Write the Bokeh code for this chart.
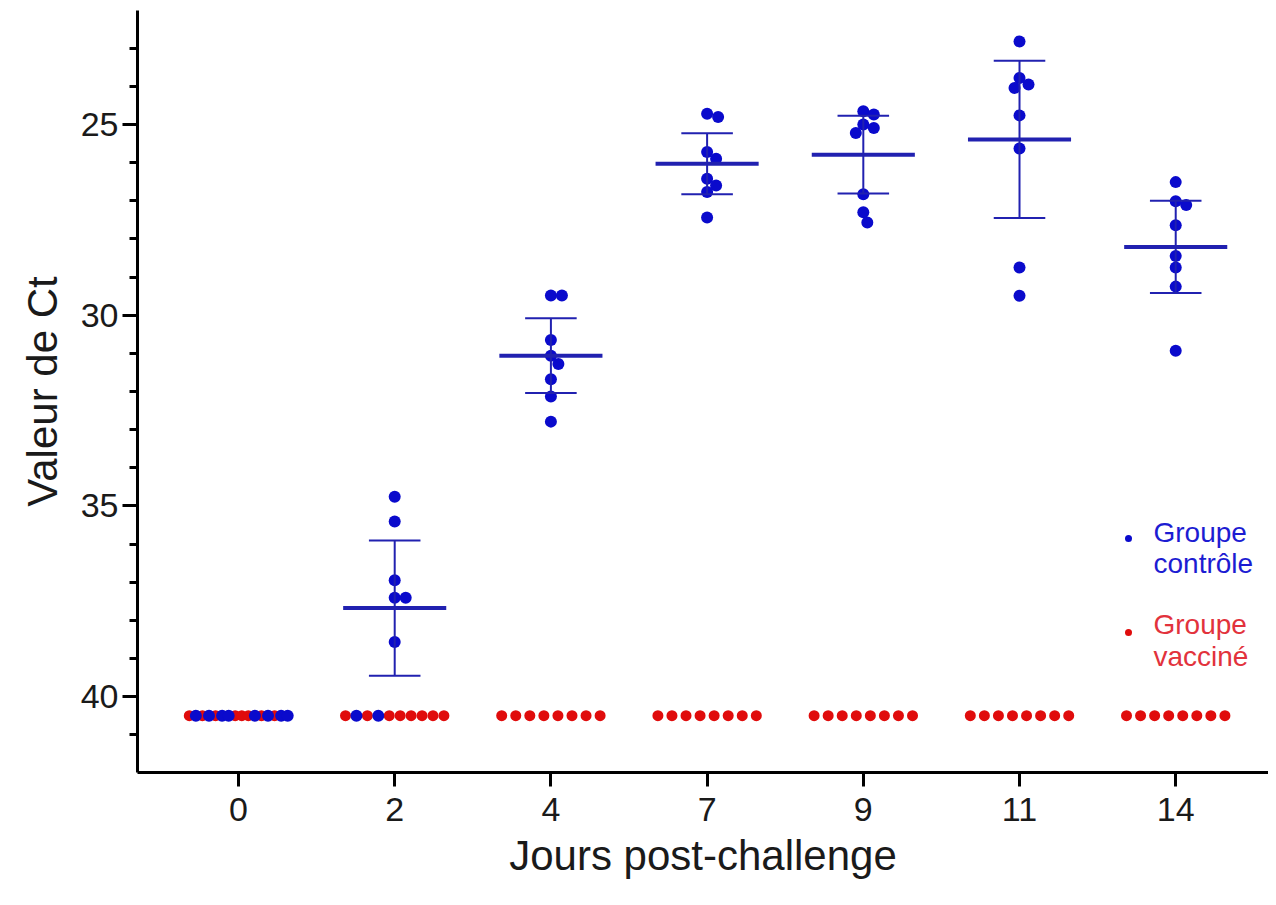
import numpy as np
from bokeh.plotting import figure
from bokeh.models import Range1d, FixedTicker, SingleIntervalTicker, Label
from bokeh.embed import file_html
from bokeh.resources import INLINE

# ---------------- data ----------------
jours = ["0", "2", "4", "7", "9", "11", "14"]
seuil = 40.5  # value given to undetected samples

controle = [
    [40.5, 40.5, 40.5, 40.5, 40.5, 40.5, 40.5, 40.5],
    [34.76, 35.41, 36.95, 37.41, 37.41, 38.57, 40.5, 40.5],
    [29.48, 29.48, 30.65, 31.06, 31.28, 31.68, 32.13, 32.79],
    [24.72, 24.80, 25.72, 25.90, 26.42, 26.60, 26.77, 27.44],
    [24.65, 24.74, 25.00, 25.09, 25.22, 26.83, 27.30, 27.57],
    [22.82, 23.78, 23.95, 24.04, 24.76, 25.63, 28.75, 29.49],
    [26.51, 27.01, 27.11, 27.64, 28.45, 28.75, 29.25, 30.93],
]
vaccine = [
    [40.5, 40.5, 40.5, 40.5, 40.5, 40.5, 40.5, 40.5],
    [40.5, 40.5, 40.5, 40.5, 40.5, 40.5, 40.5, 40.5],
    [40.5, 40.5, 40.5, 40.5, 40.5, 40.5, 40.5, 40.5],
    [40.5, 40.5, 40.5, 40.5, 40.5, 40.5, 40.5, 40.5],
    [40.5, 40.5, 40.5, 40.5, 40.5, 40.5, 40.5, 40.5],
    [40.5, 40.5, 40.5, 40.5, 40.5, 40.5, 40.5, 40.5],
    [40.5, 40.5, 40.5, 40.5, 40.5, 40.5, 40.5, 40.5],
]
moyenne = [None, 37.68, 31.06, 26.03, 25.79, 25.39, 28.21]
ecart = [None, 1.77, 0.98, 0.80, 1.02, 2.06, 1.21]
# order of groups (B = contrôle, R = vacciné) along the undetected row
ordre_seuil = ["RBRBRBBRRRBRBRBB", "RBRBRRRRRR", "RRRRRRRR", "RRRRRRRR",
               "RRRRRRRR", "RRRRRRRR", "RRRRRRRR"]

# ---------------- layout ----------------
W, H = 1268, 897
LEFT, TOP, RIGHT, BOTTOM = 137, 10, 0, 125
X0, X1 = -0.6466, 6.594
Y_BOT, Y_TOP = 41.99, 22.01
frame_w = W - LEFT - RIGHT
frame_h = H - TOP - BOTTOM
xs = frame_w / (X1 - X0)          # px per category unit
ys = frame_h / (Y_BOT - Y_TOP)    # px per Ct unit

BLUE = "#0a0acc"
LINE_BLUE = "#2121b0"
RED = "#e00c0c"
FONT = "Liberation Sans"
DOT = 12

def beeswarm(vals, diam=DOT):
    placed = []
    offs = [0.0] * len(vals)
    for i in sorted(range(len(vals)), key=lambda k: vals[k]):
        ypx = vals[i] * ys
        cands = [0.0]
        for d in np.arange(0.5, 60, 0.5):
            cands += [d, -d]
        for c in cands:
            if all((c - px) ** 2 + (ypx - py) ** 2 >= (diam - 1) ** 2 for px, py in placed):
                placed.append((c, ypx))
                offs[i] = c / xs
                break
    return offs

p = figure(width=W, height=H, x_range=Range1d(X0, X1), y_range=Range1d(Y_BOT, Y_TOP),
           output_backend="svg", toolbar_location=None,
           min_border_left=LEFT, min_border_top=TOP, min_border_right=RIGHT,
           min_border_bottom=BOTTOM)
p.outline_line_color = None
p.xgrid.visible = False
p.ygrid.visible = False
p.background_fill_color = "white"
p.border_fill_color = "white"

row_w = 0.63
bx, by, rx, ry = [], [], [], []
for i in range(len(jours)):
    det = [v for v in controle[i] if v != seuil]
    offs = beeswarm(det)
    bx += [i + o for o in offs]
    by += det
    seq = ordre_seuil[i]
    n = len(seq)
    for k, g in enumerate(seq):
        x = i - row_w / 2 + row_w * k / (n - 1)
        if g == "B":
            bx.append(x); by.append(seuil)
        else:
            rx.append(x); ry.append(seuil)

p.scatter(rx, ry, size=DOT - 1, marker="circle", fill_color=RED, line_color=RED, line_width=0)
p.scatter(bx, by, size=DOT, marker="circle", fill_color=BLUE, line_color=BLUE, line_width=0)

# mean and error bars
for i, (m, s) in enumerate(zip(moyenne, ecart)):
    if m is None:
        continue
    p.segment([i], [m - s], [i], [m + s], line_color=LINE_BLUE, line_width=2)
    p.segment([i - 0.165, i - 0.165], [m - s, m + s], [i + 0.165, i + 0.165], [m - s, m + s],
              line_color=LINE_BLUE, line_width=2)
    p.segment([i - 0.33], [m], [i + 0.33], [m], line_color=LINE_BLUE, line_width=4)

# axes
xa = p.xaxis[0]
xa.ticker = FixedTicker(ticks=list(range(len(jours))))
xa.major_label_overrides = {i: j for i, j in enumerate(jours)}
xa.axis_label = "Jours post-challenge"
ya = p.yaxis[0]
ya.ticker = SingleIntervalTicker(interval=5, num_minor_ticks=5)
ya.axis_label = "Valeur de Ct"
for ax in (xa, ya):
    ax.axis_line_width = 3
    ax.axis_line_color = "black"
    ax.major_tick_line_width = 3
    ax.minor_tick_line_width = 3
    ax.major_tick_line_color = "black"
    ax.minor_tick_line_color = "black"
    ax.major_tick_in = 0
    ax.minor_tick_in = 0
    ax.major_label_text_font = FONT
    ax.major_label_text_font_size = "34px"
    ax.major_label_text_color = "#1a1a1a"
    ax.axis_label_text_font = FONT
    ax.axis_label_text_font_size = "42px"
    ax.axis_label_text_font_style = "normal"
    ax.axis_label_text_color = "#1a1a1a"
xa.major_tick_out = 14
xa.minor_tick_out = 0
xa.major_label_standoff = 11
xa.axis_label_standoff = 8
ya.major_tick_out = 15
ya.minor_tick_out = 8
ya.major_label_standoff = 4
ya.axis_label_standoff = 12

# legend (drawn by hand)
def px2x(px):
    return X0 + (px - LEFT) / xs

def px2y(py):
    return Y_TOP + (py - TOP) / ys

leg = [("Groupe", "contrôle", BLUE, "#1c1cd2", 538, 532, 563),
       ("Groupe", "vacciné", RED, "#e2323c", 632, 624, 656)]
for l1, l2, dc, tc, dy, b1, b2 in leg:
    p.scatter([px2x(1128)], [px2y(dy)], size=7, marker="circle", fill_color=dc,
              line_color=dc, line_width=0)
    for txt, b in ((l1, b1), (l2, b2)):
        p.add_layout(Label(x=px2x(1153), y=px2y(b), text=txt, text_font=FONT,
                           text_font_size="28px", text_color=tc,
                           text_baseline="alphabetic", text_align="left"))

open("out.html", "w").write(file_html(p, INLINE))
